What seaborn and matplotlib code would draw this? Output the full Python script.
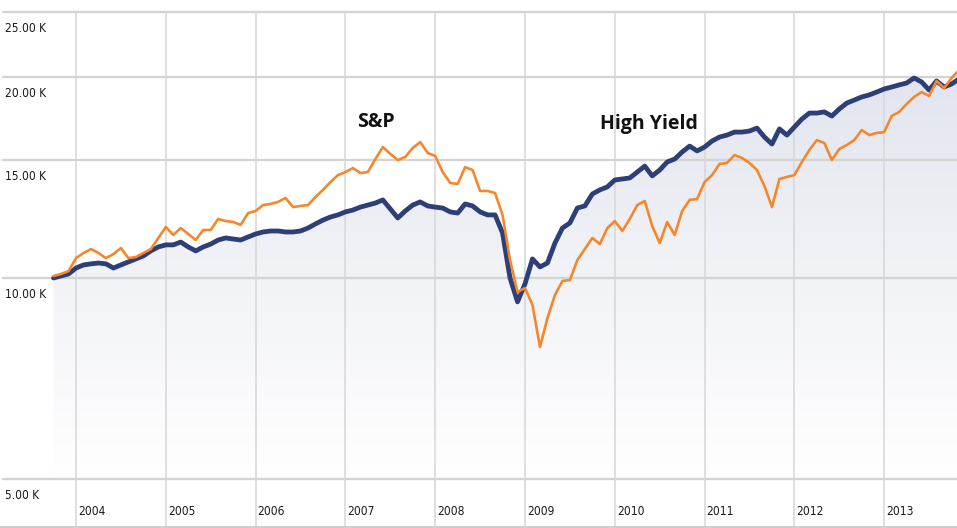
import numpy as np
import pandas as pd
import matplotlib
matplotlib.use("Agg")
import matplotlib.pyplot as plt
import seaborn as sns
from matplotlib.ticker import NullLocator
from matplotlib.colors import LinearSegmentedColormap
from matplotlib import font_manager

# ---------------- data (values in thousands of dollars, monthly) ----------------
months = pd.date_range("2003-10-01", periods=122, freq="MS")

high_yield = [
    10.00, 10.07, 10.14, 10.35, 10.46, 10.50, 10.53, 10.50, 10.35, 10.46,
    10.57, 10.68, 10.79, 10.98, 11.13, 11.21, 11.21, 11.32, 11.13, 10.98,
    11.13, 11.24, 11.40, 11.48, 11.44, 11.40, 11.52, 11.64, 11.72, 11.76,
    11.76, 11.72, 11.72, 11.76, 11.88, 12.05, 12.21, 12.34, 12.43, 12.56,
    12.64, 12.77, 12.86, 12.95, 13.09, 12.69, 12.30, 12.60, 12.86, 13.00,
    12.82, 12.77, 12.73, 12.56, 12.51, 12.91, 12.82, 12.56, 12.43, 12.43,
    11.68, 10.00, 9.21, 9.80, 10.68, 10.39, 10.53, 11.28, 11.88, 12.09,
    12.73, 12.82, 13.36, 13.55, 13.69, 14.02, 14.07, 14.12, 14.41, 14.71,
    14.22, 14.51, 14.92, 15.07, 15.44, 15.76, 15.50, 15.71, 16.04, 16.26,
    16.37, 16.54, 16.54, 16.60, 16.77, 16.26, 15.87, 16.72, 16.37, 16.83,
    17.30, 17.66, 17.66, 17.73, 17.48, 17.91, 18.28, 18.47, 18.67, 18.80,
    18.99, 19.19, 19.32, 19.46, 19.59, 19.93, 19.66, 19.12, 19.73, 19.32,
    19.52, 19.86,
]

sp500 = [
    10.07, 10.14, 10.24, 10.71, 10.90, 11.05, 10.90, 10.71, 10.86, 11.09,
    10.71, 10.75, 10.90, 11.05, 11.48, 11.92, 11.60, 11.88, 11.64, 11.40,
    11.80, 11.80, 12.26, 12.17, 12.13, 12.01, 12.51, 12.60, 12.86, 12.91,
    13.00, 13.18, 12.77, 12.82, 12.86, 13.22, 13.55, 13.92, 14.26, 14.41,
    14.61, 14.36, 14.41, 15.07, 15.71, 15.34, 15.02, 15.18, 15.66, 15.98,
    15.39, 15.23, 14.41, 13.88, 13.83, 14.66, 14.51, 13.50, 13.50, 13.41,
    12.43, 10.64, 9.53, 9.66, 9.11, 7.88, 8.71, 9.43, 9.90, 9.93,
    10.64, 11.05, 11.48, 11.24, 11.88, 12.17, 11.76, 12.26, 12.86, 13.04,
    11.96, 11.28, 12.13, 11.60, 12.60, 13.09, 13.13, 13.92, 14.26, 14.82,
    14.87, 15.28, 15.13, 14.87, 14.51, 13.73, 12.77, 14.07, 14.17, 14.26,
    14.92, 15.55, 16.09, 15.93, 15.02, 15.60, 15.82, 16.09, 16.66, 16.37,
    16.49, 16.54, 17.48, 17.73, 18.22, 18.67, 18.99, 18.73, 19.73, 19.25,
    19.93, 20.49,
]

y_ticks = [5, 10, 15, 20, 25]
y_tick_labels = ["5.00 K", "10.00 K", "15.00 K", "20.00 K", "25.00 K"]
year_ticks = list(range(2004, 2014))
series_labels = {"sp": "S&P", "hy": "High Yield"}

# ---------------- styling ----------------
sns.set_theme(style="white")

# pick the narrowest available family for the axis labels
installed = {f.name for f in font_manager.fontManager.ttflist}
if "Liberation Sans Narrow" in installed:
    tick_family, tick_stretch, tick_size = ["Liberation Sans Narrow", "DejaVu Sans"], "normal", 10
else:
    tick_family, tick_stretch, tick_size = ["DejaVu Sans"], "condensed", 8.6
plt.rcParams["font.family"] = ["DejaVu Sans"]

W, H = 957, 528
DPI = 100
PX = 72.0 / DPI  # points per pixel

fig = plt.figure(figsize=(W / DPI, H / DPI), dpi=DPI)
fig.patch.set_facecolor("white")
ax = fig.add_axes([0, 0, 1, 1])
ax.set_facecolor("white")

t = np.asarray(months.year + (months.month - 1) / 12.0, dtype=float)
df = pd.DataFrame({"t": t, "hy": high_yield, "sp": sp500})

# pixel geometry of the original chart
px_per_year = 89.8
x_left = 2004 - 76 / px_per_year
x_right = 2004 + (W - 76) / px_per_year
px_per_ln = 290.0
ten_k_px_from_bottom = H - 278
y_bottom = 10 * np.exp(-ten_k_px_from_bottom / px_per_ln)
y_top = 10 * np.exp(278 / px_per_ln)

# gradient fill under High Yield
fill = ax.fill_between(df["t"], 5, df["hy"], facecolor="none", edgecolor="none")
clip_path = fill.get_paths()[0]
grad_cmap = LinearSegmentedColormap.from_list("g", ["#ffffff", "#f0f1f6", "#dde1eb"])
grad = np.linspace(0, 1, 256).reshape(-1, 1)
im = ax.imshow(grad, extent=[0, 1, (H - 479) / H, (H - 13) / H], origin="lower",
               transform=ax.transAxes, aspect="auto", cmap=grad_cmap, zorder=0.5,
               interpolation="bilinear")
im.set_clip_path(clip_path, ax.transData)

ax.set_yscale("log")
ax.set_autoscale_on(False)
ax.set_xlim(x_left, x_right)
ax.set_ylim(y_bottom, y_top)

# grid lines
for v in y_ticks:
    ax.axhline(v, xmin=3 / W, xmax=1, color="#d3d3d3", lw=2.3 * PX, zorder=1)
ax.vlines(year_ticks, y_bottom, 25, color="#d8d8d8", lw=1.6 * PX, zorder=1)
ax.axhline(10 * np.exp(-(527 - 278) / px_per_ln), color="#cfcfcf", lw=2 * PX, zorder=1)

# lines
sns.lineplot(data=df, x="t", y="hy", ax=ax, color="#2d3f77", lw=4.8 * PX, zorder=3)
sns.lineplot(data=df, x="t", y="sp", ax=ax, color="#f7862a", lw=2.6 * PX, zorder=4)

# axis labels drawn inside plot
for v, lbl in zip(y_ticks, y_tick_labels):
    ax.annotate(lbl, xy=(0, v), xycoords=("axes fraction", "data"),
                xytext=(5 * PX, -10 * PX), textcoords="offset points",
                ha="left", va="top", fontsize=tick_size, family=tick_family,
                fontstretch=tick_stretch, color="#1a1a1a")
for yr in year_ticks:
    ax.annotate(str(yr), xy=(yr, 0), xycoords=("data", "axes fraction"),
                xytext=(2 * PX, 16.5 * PX), textcoords="offset points",
                ha="left", va="center", fontsize=tick_size, family=tick_family,
                fontstretch=tick_stretch, color="#1a1a1a")

# series annotations
ax.text(2004 + (357 - 76) / px_per_year, 10 * np.exp((278 - 127) / px_per_ln),
        series_labels["sp"], fontsize=14, fontweight="bold", family="Open Sans",
        ha="left", va="baseline", color="#111111", zorder=5)
ax.text(2004 + (600 - 76) / px_per_year, 10 * np.exp((278 - 129) / px_per_ln),
        series_labels["hy"], fontsize=14, fontweight="bold", family="Open Sans",
        ha="left", va="baseline", color="#111111", zorder=5)

ax.xaxis.set_major_locator(NullLocator())
ax.xaxis.set_minor_locator(NullLocator())
ax.yaxis.set_major_locator(NullLocator())
ax.yaxis.set_minor_locator(NullLocator())
ax.set_xlabel("")
ax.set_ylabel("")
for s in ax.spines.values():
    s.set_visible(False)

fig.savefig("out.png", dpi=DPI, facecolor="white")
